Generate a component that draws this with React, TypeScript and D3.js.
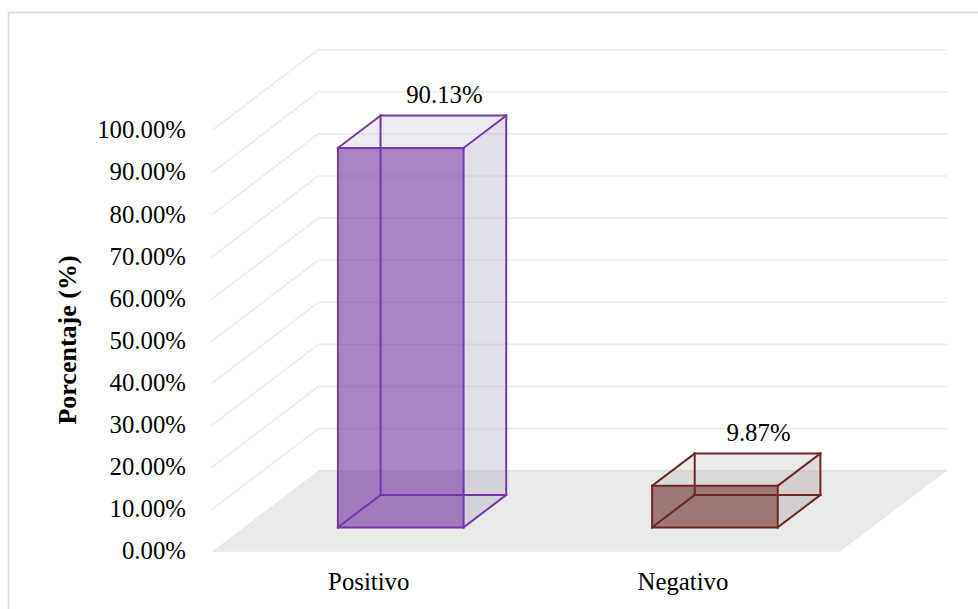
import React from 'react';
import * as d3 from 'd3';

// Chart values
const categories = ['Positivo', 'Negativo'];
const values = [90.13, 9.87];
const valueLabels = ['90.13%', '9.87%'];
const yTicks = [0, 10, 20, 30, 40, 50, 60, 70, 80, 90, 100];
const yTitle = 'Porcentaje (%)';

// Per-series colours
const faceColors = ['#7030a0', '#6e2b27'];
const edgeColors = ['#7636ab', '#6c2925'];
const sideColors = ['#b8aec6', '#b3a6a6'];

const W = 978;
const H = 609;
const FONT = '"Liberation Serif", "Times New Roman", serif';

// Oblique projection of the plot box: depth runs up and to the right
const DX = 106.6;
const DY = 81;
const FLOOR_Y = 551.7;
const LEFT = 211.7;
const RIGHT = 840;

export default function App() {
  const y = d3.scaleLinear().domain([0, 100]).range([FLOOR_Y, FLOOR_Y - 421]);
  const x = d3.scaleBand<string>().domain(categories).range([LEFT, RIGHT]).paddingInner(0).paddingOuter(0);
  const depth = d3.scaleLinear().domain([0, 1]).range([0, 1]);

  const P = (px: number, v: number, d: number): [number, number] => [
    px + depth(d) * DX,
    y(v) - depth(d) * DY,
  ];
  const poly = (pts: [number, number][]) => d3.line()(pts.concat([pts[0]])) as string;

  const floor = poly([P(LEFT, 0, 0), P(RIGHT, 0, 0), P(RIGHT, 0, 1), P(LEFT, 0, 1)]);

  const barFrac = 0.4; // gap width 150%
  const d0 = 0.3;
  const d1 = 0.7;

  return (
    <svg width={W} height={H} style={{ position: 'absolute', left: 0, top: 0, background: '#fff' }}>
      <rect x={8.5} y={12.5} width={1200} height={800} fill="#fff" stroke="#d9d9d9" strokeWidth={1.5} />

      {/* floor */}
      <path d={floor} fill="#e9e9e9" />

      {/* back wall and side wall gridlines */}
      {yTicks.map((t) => {
        const [bx, by] = P(LEFT, t, 1);
        const [ex, ey] = P(RIGHT, t, 1);
        const [fx, fy] = P(LEFT, t, 0);
        return (
          <g key={`g${t}`}>
            <line x1={bx} y1={by} x2={ex + 0.5} y2={ey} stroke={t === 0 ? '#e1e1e1' : '#ebebeb'} strokeWidth={1.6} />
            {t > 0 && <line x1={fx} y1={fy} x2={bx} y2={by} stroke="#ebebeb" strokeWidth={1.6} />}
          </g>
        );
      })}

      {/* bars drawn as translucent boxes */}
      {categories.map((c, i) => {
        const bw = x.bandwidth();
        const cx = (x(c) as number) + bw / 2;
        const x0 = cx - (bw * barFrac) / 2;
        const x1 = cx + (bw * barFrac) / 2;
        const v = values[i];
        const A = P(x0, 0, d0), B = P(x1, 0, d0), C = P(x1, v, d0), D = P(x0, v, d0);
        const E = P(x0, 0, d1), F = P(x1, 0, d1), G = P(x1, v, d1), Hh = P(x0, v, d1);
        const edges: [number, number][][] = [
          [E, F], [F, G], [G, Hh], [Hh, E],
          [A, E], [B, F], [C, G], [D, Hh],
          [A, B], [B, C], [C, D], [D, A],
        ];
        const labelX = (E[0] + F[0]) / 2 + 1;
        const labelY = Hh[1] - 12.5;
        return (
          <g key={c}>
            <path d={poly([B, F, G, C])} fill={sideColors[i]} fillOpacity={0.4} />
            <path d={poly([D, C, G, Hh])} fill={sideColors[i]} fillOpacity={0.25} />
            <path d={poly([A, B, C, D])} fill={faceColors[i]} fillOpacity={0.6} />
            {edges.map((e, k) => (
              <line key={k} x1={e[0][0]} y1={e[0][1]} x2={e[1][0]} y2={e[1][1]}
                stroke={edgeColors[i]} strokeWidth={2} strokeLinecap="square" />
            ))}
            <text x={labelX} y={labelY} textAnchor="middle" fontFamily={FONT} fontSize={24.8} fill="#000">
              {valueLabels[i]}
            </text>
            <text x={cx} y={590} textAnchor="middle" fontFamily={FONT} fontSize={24.8} fill="#000">
              {c}
            </text>
          </g>
        );
      })}

      {/* value axis labels */}
      {yTicks.map((t) => (
        <text key={`t${t}`} x={186} y={y(t) + 7.6} textAnchor="end" fontFamily={FONT} fontSize={24.8} fill="#000">
          {`${t.toFixed(2)}%`}
        </text>
      ))}

      <text transform={`translate(76,340) rotate(-90)`} textAnchor="middle" fontFamily={FONT}
        fontSize={26} fontWeight="bold" fill="#000">
        {yTitle}
      </text>
    </svg>
  );
}
